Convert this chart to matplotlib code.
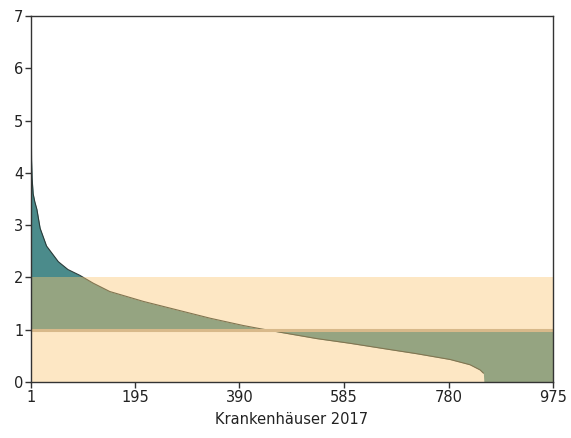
import numpy as np
import matplotlib
matplotlib.use("Agg")
import matplotlib.pyplot as plt

# sorted ratio per hospital, rank -> value
rank = [1, 2, 3, 5, 8, 12, 18, 30, 52, 70, 92, 117, 148, 211, 273, 335, 397,
        428, 472, 534, 596, 658, 721, 783, 820, 839, 845, 846, 975]
ratio = [5.6, 4.24, 3.9, 3.6, 3.45, 3.3, 2.94, 2.6, 2.30, 2.15, 2.04, 1.89,
         1.73, 1.54, 1.38, 1.22, 1.08, 1.02, 0.94, 0.83, 0.74, 0.64, 0.54,
         0.43, 0.33, 0.23, 0.17, 0.0, 0.0]
xticks = [1, 195, 390, 585, 780, 975]
yticks = [0, 1, 2, 3, 4, 5, 6, 7]
band = (0, 2)
ref_line = 1
xlabel = "Krankenhäuser 2017"

fig = plt.figure(figsize=(5.71, 4.38), dpi=100)
ax = fig.add_axes([0.0543, 0.1279, 0.9142, 0.8356])

x = np.array(rank)
y = np.array(ratio)

# fill between curve and reference line
ax.fill_between(x, y, ref_line, color="#4b8b8b", linewidth=0, zorder=1)
ax.plot(x[:-2], y[:-2], color="#2a3a38", linewidth=0.8, zorder=2)

# translucent band on top
ax.axhspan(band[0], band[1], color="#fcc874", alpha=0.42, linewidth=0, zorder=3)
ax.axhline(ref_line, color="#d8b98a", linewidth=2.2, zorder=4)

ax.set_xlim(1, 975)
ax.set_ylim(0, 7)
ax.set_xticks(xticks)
ax.set_yticks(yticks)
ax.tick_params(labelsize=10.5, length=4, width=1, color="#333333",
               labelcolor="#222222", pad=1.5)
for s in ax.spines.values():
    s.set_color("#333333")
    s.set_linewidth(1)
    s.set_zorder(5)
ax.set_xlabel(xlabel, fontsize=10.5, color="#222222", labelpad=5)

fig.savefig("out.png", dpi=100)
